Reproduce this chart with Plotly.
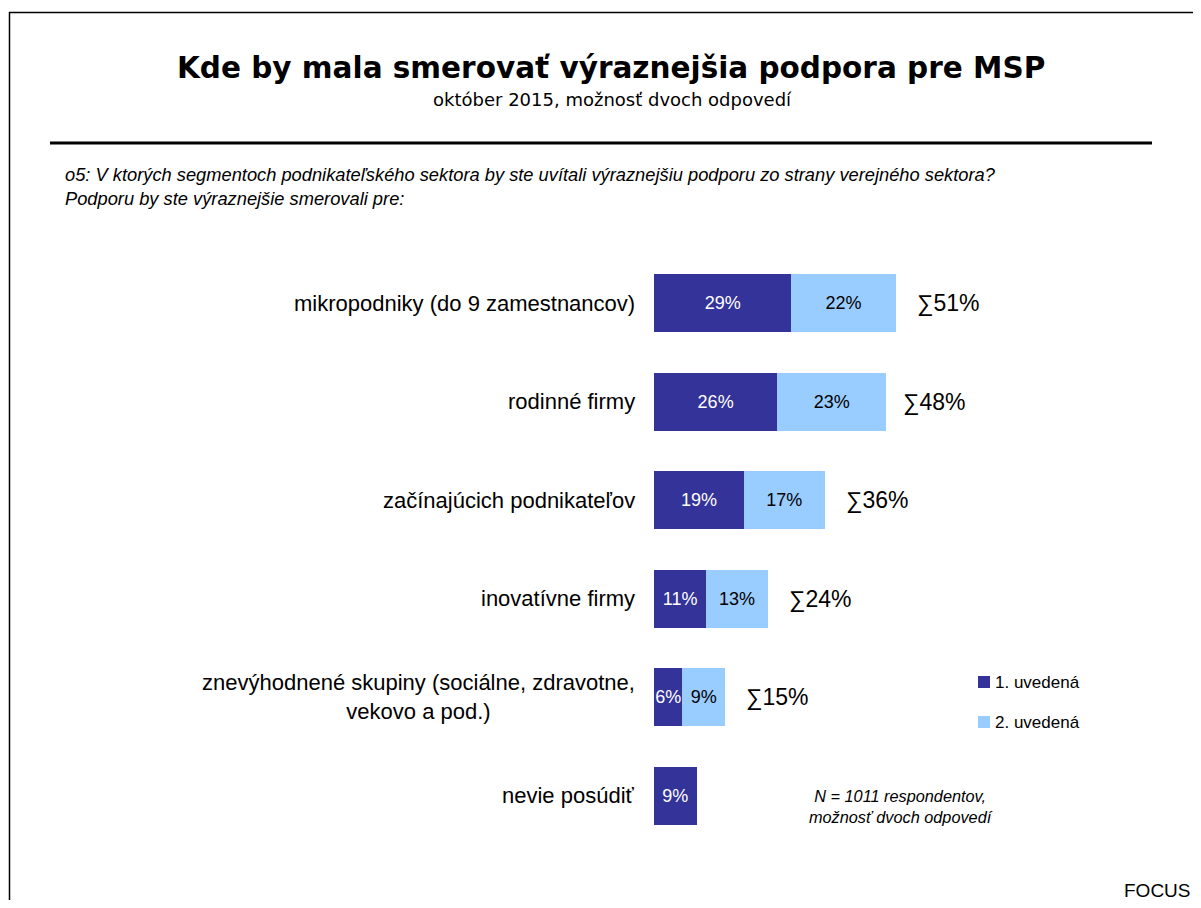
import plotly.graph_objects as go

categories = [
    "mikropodniky (do 9 zamestnancov)",
    "rodinné firmy",
    "začínajúcich podnikateľov",
    "inovatívne firmy",
    "znevýhodnené skupiny (sociálne, zdravotne,<br>vekovo a pod.)",
    "nevie posúdiť",
]
first_mention = [29, 26, 19, 11, 6, 9]
second_mention = [22, 23, 17, 13, 9, None]
totals = [51, 48, 36, 24, 15, None]
series_names = ["1. uvedená", "2. uvedená"]

DARK = "#333399"
LIGHT = "#99CCFF"
OFF = 8  # page body margin
W, H = 1185, 892
L, R, T, B = 646, 65, 246, 55
PW, PH = W - L - R, H - T - B


def px(x):
    """page pixel x -> paper coordinate"""
    return (x - OFF - L) / PW


def py(y):
    """page pixel y -> paper coordinate"""
    return (H - B - (y - OFF)) / PH


fig = go.Figure()
fig.add_trace(go.Bar(
    y=categories, x=first_mention, orientation="h", name=series_names[0],
    marker=dict(color=DARK, line=dict(width=0)),
    text=[f"{v}%" for v in first_mention], textposition="inside", textangle=0,
    insidetextanchor="middle", constraintext="none",
    textfont=dict(color="white", size=18, family="Liberation Sans"),
    width=0.59, showlegend=False,
))
fig.add_trace(go.Bar(
    y=categories, x=second_mention, orientation="h", name=series_names[1],
    marker=dict(color=LIGHT, line=dict(width=0)),
    text=[f"{v}%" if v is not None else "" for v in second_mention], textposition="inside", textangle=0,
    insidetextanchor="middle", constraintext="none",
    textfont=dict(color="black", size=18, family="Liberation Sans"),
    width=0.59, showlegend=False,
))

ann = []
for cat, tot in zip(categories, totals):
    ann.append(dict(x=0, y=cat, xref="x", yref="y", text=cat, showarrow=False,
                    xanchor="right", align="center", xshift=-17,
                    font=dict(size=22, family="Liberation Sans", color="black")))
    if tot is not None:
        ann.append(dict(x=tot, y=cat, xref="x", yref="y", text=f"∑{tot}%", showarrow=False,
                        xanchor="left", xshift=19,
                        font=dict(size=23, family="Liberation Sans", color="black")))

# title, subtitle, question
ann.append(dict(x=px(611), y=py(68), xref="paper", yref="paper", showarrow=False,
                text="<b>Kde by mala smerovať výraznejšia podpora pre MSP</b>",
                font=dict(size=29.5, family="DejaVu Sans", color="black"), xanchor="center", yanchor="middle"))
ann.append(dict(x=px(612), y=py(99), xref="paper", yref="paper", showarrow=False,
                text="október 2015, možnosť dvoch odpovedí",
                font=dict(size=18, family="DejaVu Sans", color="black"), xanchor="center", yanchor="middle"))
ann.append(dict(x=px(63), y=py(187), xref="paper", yref="paper", showarrow=False,
                text="<i>o5: V ktorých segmentoch podnikateľského sektora by ste uvítali výraznejšiu podporu zo strany verejného sektora?<br>Podporu by ste výraznejšie smerovali pre:</i>",
                font=dict(size=18.3, family="Liberation Sans", color="black"), xanchor="left", yanchor="middle", align="left"))
# legend
for i, nm in enumerate(series_names):
    yc = 682 + 40 * i
    ann.append(dict(x=px(993), y=py(yc), xref="paper", yref="paper", showarrow=False,
                    text=nm, xanchor="left", yanchor="middle",
                    font=dict(size=17, family="Liberation Sans", color="black")))
# note
ann.append(dict(x=px(901), y=py(806), xref="paper", yref="paper", showarrow=False,
                text="<i>N = 1011 respondentov,<br>možnosť dvoch odpovedí</i>",
                font=dict(size=16.3, family="Liberation Sans", color="black"), xanchor="center", yanchor="middle"))
ann.append(dict(x=px(1193), y=py(890), xref="paper", yref="paper", showarrow=False,
                text="FOCUS", xanchor="right", yanchor="middle",
                font=dict(size=19, family="Liberation Sans", color="black")))

shapes = [
    dict(type="rect", xref="paper", yref="paper", x0=px(9.5), x1=px(1240), y0=py(940), y1=py(12.5),
         line=dict(color="black", width=1.5), layer="below"),
    dict(type="line", xref="paper", yref="paper", x0=px(50), x1=px(1152), y0=py(143), y1=py(143),
         line=dict(color="black", width=3)),
]
for i, col in enumerate([DARK, LIGHT]):
    yc = 682 + 40 * i
    shapes.append(dict(type="rect", xref="paper", yref="paper", x0=px(978), x1=px(990),
                       y0=py(yc + 6), y1=py(yc - 6), fillcolor=col, line=dict(width=0)))

fig.update_layout(
    width=W, height=H, barmode="stack",
    margin=dict(l=L, r=R, t=T, b=B, autoexpand=False),
    paper_bgcolor="white", plot_bgcolor="white",
    xaxis=dict(range=[0, 100], visible=False, fixedrange=True),
    yaxis=dict(categoryorder="array", categoryarray=categories,
               range=[5.5, -0.5], showticklabels=False, showgrid=False, zeroline=False, showline=False),
    annotations=ann, shapes=shapes, showlegend=False,
)
fig.write_html("out.html")
